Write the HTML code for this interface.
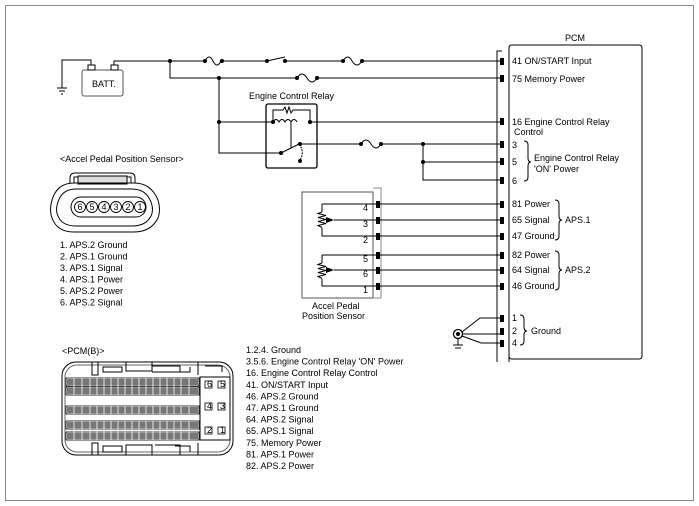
<!DOCTYPE html>
<html><head><meta charset="utf-8"><style>
body{margin:0;background:#fff}
svg{display:block}
text{font-family:"Liberation Sans",sans-serif;font-size:9px;fill:#000}
</style></head><body>
<svg width="699" height="506" viewBox="0 0 699 506" xmlns="http://www.w3.org/2000/svg">
<rect x="5.5" y="5.5" width="688" height="495" fill="none" stroke="#888" stroke-width="1"/>
<g stroke="#000" stroke-width="1" fill="none">
<rect x="82" y="70" width="41" height="26" rx="2" stroke="#555"/>
<rect x="88" y="65" width="7" height="5"/><rect x="111" y="65" width="7" height="5"/>
<path d="M91,65 V60 H62 V88"/>
<path d="M57,88 H67 M59,91 H65 M61,94 H63"/>
<path d="M114,65 V61 H205 M222,61 H267 M285,61 H343 M362,61 H501"/>
<path d="M205,61 q4,-8 8,0 q4,8 8,0"/>
<path d="M267,61 L285,57"/>
<path d="M343,61 q5,-8 9,0 q5,8 10,0"/>
<path d="M170,61 V78 H297 M317,78 H501"/>
<path d="M297,78 q5,-8 10,0 q5,8 10,0"/>
<path d="M219,78 V153 H281"/>
<path d="M219,122 H273 M310,122 H501"/>
<rect x="266" y="104" width="51" height="64" rx="2" stroke-width="1.3"/>
<path d="M273,122 V110 H283 l2,-3 l2,6 l2,-6 l2,6 l2,-3 H310 V122"/>
<path d="M273,122 q3,-5 6,0 q3,-5 6,0 q3,-5 6,0 q3,-5 6,0 M291,122 V148"/>
<path d="M281,153 L299,144 H361 M381,144 H501"/>
<path d="M299,144 q6,8 1,16" stroke-dasharray="2,1"/>
<path d="M361,144 q5,-8 10,0 q5,8 10,0"/>
<path d="M423,144 V180 H501 M423,162 H501"/>
<path d="M497,362 V51 H502"/>
<path d="M509,362 V48 q0,-3 3,-3 H639 q3,0 3,3 V356 q0,3 -3,3 H512 q-3,0 -3,-3"/>
<rect x="302" y="192" width="71" height="106" stroke="#555"/>
<path d="M373,188 H381 V298 H373" stroke="#888"/>
<path d="M322,204 H378 M322,204 V212 M322,228 V236 H378"/>
<path d="M322,212 l-4,1.5 l8,2 l-8,2 l8,2 l-8,2 l8,2 l-8,2 l4,2" />
<path d="M334,220 H378"/>
<path d="M322,255 H378 M322,255 V263 M322,279 V286 H378"/>
<path d="M322,263 l-4,1.5 l8,2 l-8,2 l8,2 l-8,2 l8,2 l-8,2 l4,2"/>
<path d="M334,270 H378"/>
<path d="M378,204 H501 M378,220 H501 M378,236 H501 M378,255 H501 M378,270 H501 M378,286 H501"/>
<path d="M462,332 L480,318 H501 M462,334 H501 M462,336 L481,343 H501"/>
<circle cx="458" cy="334" r="4.5" stroke-width="1.3"/>
<path d="M458,339 V345 M453,345 H463 M455,348 H461"/>
<path d="M524,141 q4,0 4,4 V158 q0,4 3,4 q-3,0 -3,4 V177 q0,4 -4,4"/>
<path d="M555,200 q4,0 4,4 V216 q0,4 3,4 q-3,0 -3,4 V236 q0,4 -4,4"/>
<path d="M555,251 q4,0 4,4 V266 q0,4 3,4 q-3,0 -3,4 V286 q0,4 -4,4"/>
<path d="M520,315 q4,0 4,4 V327 q0,4 3,4 q-3,0 -3,4 V341 q0,4 -4,4"/>
<path d="M70,183 V178 q0,-5 5,-5 H130 q5,0 5,5 V183 M74,183 V177 H131 V183"/>
<rect x="78" y="176" width="49" height="8" fill="#ddd"/>
<path d="M52,200 q5,-17 22,-17 H134 q17,0 24,17 q3,10 0,18 q-7,14 -24,14 H74 q-17,0 -22,-14 q-3,-8 0,-18z"/>
<path d="M58,202 q4,-13 18,-13 H132 q14,0 19,13 q3,8 0,14 q-5,10 -19,10 H76 q-14,0 -18,-10 q-3,-6 0,-14z"/>
<rect x="71" y="197" width="75" height="20" rx="10"/>
<g stroke-width="0.9">
<circle cx="80" cy="207" r="5.5"/><circle cx="92" cy="207" r="5.5"/><circle cx="104" cy="207" r="5.5"/>
<circle cx="116" cy="207" r="5.5"/><circle cx="128" cy="207" r="5.5"/><circle cx="140" cy="207" r="5.5"/>
</g>
</g>
<g style="font-size:8px" text-anchor="middle">
<text x="80" y="210">6</text><text x="92" y="210">5</text><text x="104" y="210">4</text><text x="116" y="210">3</text><text x="128" y="210">2</text><text x="140" y="210">1</text>
</g>
<g fill="#000">
<circle cx="170" cy="61" r="2"/><circle cx="205" cy="61" r="2"/><circle cx="222" cy="61" r="2"/>
<circle cx="267" cy="61" r="2"/><circle cx="285" cy="61" r="2"/><circle cx="343" cy="61" r="2"/><circle cx="362" cy="61" r="2"/>
<circle cx="219" cy="78" r="2"/><circle cx="297" cy="78" r="2"/><circle cx="317" cy="78" r="2"/>
<circle cx="219" cy="122" r="2"/><circle cx="273" cy="122" r="2"/><circle cx="310" cy="122" r="2"/>
<circle cx="281" cy="153" r="2"/><circle cx="300" cy="144" r="2"/><circle cx="300" cy="161" r="2"/>
<circle cx="361" cy="144" r="2"/><circle cx="381" cy="144" r="2"/><circle cx="423" cy="144" r="2"/><circle cx="423" cy="162" r="2"/>
<circle cx="458" cy="334" r="2"/>
<path d="M326,217 l8,3 l-8,3z M326,267 l8,3 l-8,3z"/>
<rect x="500" y="58" width="4" height="7"/><rect x="500" y="75" width="4" height="7"/><rect x="500" y="118" width="4" height="7"/>
<rect x="500" y="141" width="4" height="7"/><rect x="500" y="158" width="4" height="7"/><rect x="500" y="177" width="4" height="7"/>
<rect x="500" y="201" width="4" height="7"/><rect x="500" y="217" width="4" height="7"/><rect x="500" y="233" width="4" height="7"/>
<rect x="500" y="252" width="4" height="7"/><rect x="500" y="267" width="4" height="7"/><rect x="500" y="283" width="4" height="7"/>
<rect x="500" y="315" width="4" height="7"/><rect x="500" y="328" width="4" height="7"/><rect x="500" y="340" width="4" height="7"/>
<rect x="376" y="201" width="4" height="7"/><rect x="376" y="217" width="4" height="7"/><rect x="376" y="233" width="4" height="7"/>
<rect x="376" y="252" width="4" height="7"/><rect x="376" y="267" width="4" height="7"/><rect x="376" y="283" width="4" height="7"/>
</g>
<text x="92" y="87">BATT.</text>
<text x="249" y="99">Engine Control Relay</text>
<text x="565" y="41">PCM</text>
<text x="512" y="64">41 ON/START Input</text>
<text x="512" y="82">75 Memory Power</text>
<text x="512" y="125">16 Engine Control Relay</text>
<text x="514" y="135">Control</text>
<text x="512" y="148">3</text><text x="512" y="165">5</text><text x="512" y="184">6</text>
<text x="534" y="161">Engine Control Relay</text>
<text x="534" y="172">'ON' Power</text>
<text x="512" y="207">81 Power</text><text x="512" y="223">65 Signal</text><text x="512" y="239">47 Ground</text>
<text x="512" y="258">82 Power</text><text x="512" y="273">64 Signal</text><text x="512" y="289">46 Ground</text>
<text x="565" y="223">APS.1</text><text x="565" y="273">APS.2</text>
<text x="512" y="321">1</text><text x="512" y="334">2</text><text x="512" y="346">4</text>
<text x="531" y="334">Ground</text>
<text x="363" y="211">4</text><text x="363" y="227">3</text><text x="363" y="243">2</text>
<text x="363" y="262">5</text><text x="363" y="277">6</text><text x="363" y="293">1</text>
<text x="312" y="309">Accel Pedal</text><text x="302" y="319">Position Sensor</text>
<text x="60" y="162">&lt;Accel Pedal Position Sensor&gt;</text>
<text x="60" y="248">1. APS.2 Ground</text>
<text x="60" y="259.5">2. APS.1 Ground</text>
<text x="60" y="271">3. APS.1 Signal</text>
<text x="60" y="282.5">4. APS.1 Power</text>
<text x="60" y="294">5. APS.2 Power</text>
<text x="60" y="305.5">6. APS.2 Signal</text>
<text x="62" y="354">&lt;PCM(B)&gt;</text>
<text x="246" y="353">1.2.4. Ground</text>
<text x="246" y="364.6">3.5.6. Engine Control Relay 'ON' Power</text>
<text x="246" y="376.2">16. Engine Control Relay Control</text>
<text x="246" y="387.8">41. ON/START Input</text>
<text x="246" y="399.4">46. APS.2 Ground</text>
<text x="246" y="411">47. APS.1 Ground</text>
<text x="246" y="422.6">64. APS.2 Signal</text>
<text x="246" y="434.2">65. APS.1 Signal</text>
<text x="246" y="445.8">75. Memory Power</text>
<text x="246" y="457.4">81. APS.1 Power</text>
<text x="246" y="469">82. APS.2 Power</text>
<g fill="#777"><rect x="67" y="379" width="131" height="6"/><rect x="67" y="388" width="131" height="6"/><rect x="67" y="407" width="131" height="6"/><rect x="67" y="422" width="131" height="6"/><rect x="67" y="433" width="131" height="6"/></g>
<g stroke="#000" fill="none" stroke-width="1">
<rect x="62" y="362" width="171" height="93" rx="14"/>
<rect x="65" y="365" width="165" height="87" rx="12" stroke="#666"/>
<path d="M200,377 H230 V440 H200z"/>
<path d="M92,362 V375 H98 V362 M103,367 H122 V372 H103z M126,362 V371 H152 V362 M152,366 H180 V372 H152 M175,372 H190 V367 M198,362 V375 M205,366 H222 V372"/>
<path d="M92,455 V443 H98 V455 M103,446 H122 V452 H103z M126,455 V445 H152 V455 M155,445 H180 V455 M175,446 H190 V452 M198,455 V443"/>
<g stroke-width="0.8">
<rect x="66" y="378" width="133" height="8"/><rect x="66" y="387" width="133" height="8"/>
<rect x="66" y="406" width="133" height="8"/>
<rect x="66" y="421" width="133" height="8"/><rect x="66" y="432" width="133" height="8"/>
<rect x="205" y="381" width="7" height="7"/><rect x="218" y="381" width="7" height="7"/>
<rect x="205" y="403" width="7" height="7"/><rect x="218" y="403" width="7" height="7"/>
<rect x="205" y="427" width="7" height="7"/><rect x="218" y="427" width="7" height="7"/>
</g>
<path stroke="#fff" stroke-width="0.8" d="M74,378V395M82,378V395M90,378V395M97,378V395M104,378V395M111,378V395M118,378V395M125,378V395M132,378V395M139,378V395M146,378V395M153,378V395M160,378V395M167,378V395M174,378V395M181,378V395M189,378V395 M74,406V414M82,406V414M90,406V414M97,406V414M104,406V414M111,406V414M118,406V414M125,406V414M132,406V414M139,406V414M146,406V414M153,406V414M160,406V414M167,406V414M174,406V414M181,406V414M189,406V414 M74,421V440M82,421V440M90,421V440M97,421V440M104,421V440M111,421V440M118,421V440M125,421V440M132,421V440M139,421V440M146,421V440M153,421V440M160,421V440M167,421V440M174,421V440M181,421V440M189,421V440"/>
</g>
<g style="font-size:5px"><text x="207" y="387">6</text><text x="220" y="387">5</text><text x="207" y="409">4</text><text x="220" y="409">3</text><text x="207" y="433">2</text><text x="220" y="433">1</text></g>
</svg>
</body></html>
